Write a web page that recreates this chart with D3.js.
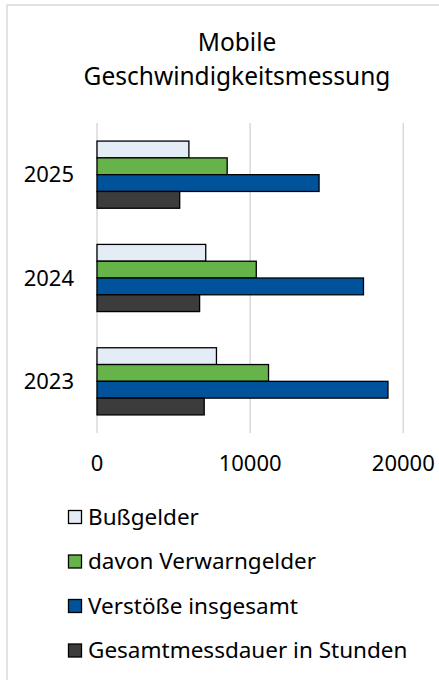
<!DOCTYPE html>
<html><head><meta charset="utf-8">
<script src="https://cdn.jsdelivr.net/npm/d3@7"></script>
<style>body{margin:0;background:#fff}svg{display:block}text{font-family:"Noto Sans",sans-serif;fill:#000}</style>
</head><body><svg id="c" width="439" height="680"></svg>
<script>
const years = ["2025","2024","2023"];
const seriesNames = ["Bußgelder","davon Verwarngelder","Verstöße insgesamt","Gesamtmessdauer in Stunden"];
const bussgelder = [6000, 7100, 7800];
const verwarngelder = [8500, 10400, 11200];
const verstoesse = [14500, 17400, 19000];
const messdauer = [5400, 6700, 7000];
const xTicks = [0, 10000, 20000];
const colors = ["#e4ecf5","#66b34a","#00539b","#3c3c3c"];

const series = [bussgelder, verwarngelder, verstoesse, messdauer];
const svg = d3.select("#c");

svg.append("rect").attr("x",7).attr("y",5).attr("width",460).attr("height",700)
  .attr("fill","none").attr("stroke","#d9d9d9").attr("stroke-width",1.5);

svg.append("text").attr("x",237).attr("y",42).attr("dy","0.35em").attr("text-anchor","middle")
  .style("font-size","24.5px").text("Mobile");
svg.append("text").attr("x",237).attr("y",76).attr("dy","0.35em").attr("text-anchor","middle")
  .style("font-size","24.5px").text("Geschwindigkeitsmessung");

const x = d3.scaleLinear().domain([0,20000]).range([97,403.3]);
const y = d3.scaleBand().domain(years).range([123,433]).paddingInner(0.35).paddingOuter(0.175);
const yi = d3.scaleBand().domain(d3.range(4)).range([0,y.bandwidth()]);

svg.append("g").selectAll("line").data(xTicks).join("line")
  .attr("x1",d=>x(d)).attr("x2",d=>x(d)).attr("y1",123).attr("y2",433)
  .attr("stroke","#d9d9d9").attr("stroke-width",1.5);

const g = svg.append("g");
years.forEach((yr,i)=>{
  series.forEach((s,k)=>{
    g.append("rect").attr("x",x(0)).attr("y",y(yr)+yi(k))
      .attr("width",x(s[i])-x(0)).attr("height",yi.bandwidth())
      .attr("fill",colors[k]).attr("stroke","#000").attr("stroke-width",1.3);
  });
});

svg.append("g").selectAll("text").data(years).join("text")
  .attr("x",74).attr("y",d=>y(d)+y.bandwidth()/2).attr("dy","0.35em")
  .attr("text-anchor","end").style("font-size","22px").text(d=>d);

svg.append("g").selectAll("text").data(xTicks).join("text")
  .attr("x",d=>x(d)).attr("y",463).attr("dy","0.35em")
  .attr("text-anchor","middle").style("font-size","22px").text(d=>d);

const lg = svg.append("g");
seriesNames.forEach((n,k)=>{
  const cy = 517 + k*44.5;
  lg.append("rect").attr("x",68.5).attr("y",cy-6.5).attr("width",13).attr("height",13)
    .attr("fill",colors[k]).attr("stroke","#000").attr("stroke-width",1.3);
  lg.append("text").attr("x",88).attr("y",cy).attr("dy","0.35em")
    .style("font-size","22.5px").text(n);
});
</script></body></html>
